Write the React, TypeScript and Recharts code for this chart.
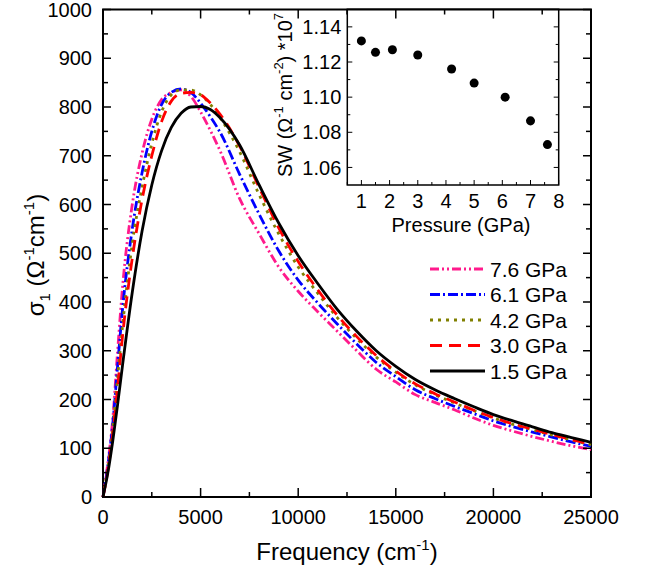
import React from "react";
import { LineChart, Line, XAxis, YAxis, ReferenceArea, Legend, ScatterChart, Scatter, ZAxis } from "recharts";

// frequency grid (cm^-1)
const freq = [0, 250, 500, 750, 1000, 1500, 2000, 2500, 3000, 3500, 4000, 4500, 5000, 5500, 6000, 7000, 8000, 9000, 10000, 11000, 12000, 13000, 14000, 15000, 16000, 17000, 18000, 19000, 20000, 21000, 22000, 23000, 24000, 25000];

// sigma_1 values
const gpa76 = [0, 70, 160, 300, 430, 600, 705, 775, 815, 830, 835, 822, 790, 752, 710, 612, 540, 472, 422, 380, 340, 300, 262, 236, 210, 194, 179, 162, 147, 135, 124, 114, 105, 97];
const gpa61 = [0, 65, 150, 270, 385, 550, 665, 750, 805, 830, 837, 830, 808, 780, 748, 662, 580, 505, 445, 398, 355, 314, 276, 247, 220, 202, 186, 171, 156, 144, 133, 123, 113, 104];
const gpa42 = [0, 60, 140, 245, 350, 520, 635, 725, 790, 825, 835, 835, 825, 805, 778, 708, 620, 540, 472, 418, 368, 325, 287, 256, 230, 210, 193, 177, 162, 149, 138, 127, 117, 107];
const gpa30 = [0, 55, 130, 225, 330, 490, 610, 700, 770, 812, 828, 830, 825, 808, 785, 720, 635, 552, 483, 425, 373, 329, 290, 258, 232, 212, 195, 178, 163, 150, 139, 128, 118, 108];
const gpa15 = [0, 50, 115, 190, 270, 420, 545, 640, 710, 758, 787, 800, 801, 795, 778, 722, 640, 562, 495, 438, 385, 340, 300, 268, 241, 220, 202, 185, 169, 156, 144, 132, 122, 112];

// inset: spectral weight vs pressure
const pressure = [1, 1.5, 2.1, 3, 4.2, 5, 6.1, 7, 7.6];
const sw = [1.132, 1.1255, 1.127, 1.124, 1.116, 1.108, 1.1, 1.0865, 1.073];

const xTicks = [0, 2500, 5000, 7500, 10000, 12500, 15000, 17500, 20000, 22500, 25000];
const yTicks = [0, 50, 100, 150, 200, 250, 300, 350, 400, 450, 500, 550, 600, 650, 700, 750, 800, 850, 900, 950, 1000];
const insetXTicks = [0.5, 1, 1.5, 2, 2.5, 3, 3.5, 4, 4.5, 5, 5.5, 6, 6.5, 7, 7.5, 8];
const insetYTicks = [1.06, 1.07, 1.08, 1.09, 1.1, 1.11, 1.12, 1.13, 1.14];

const rows = freq.map((f, i) => ({
  f,
  p76: gpa76[i],
  p61: gpa61[i],
  p42: gpa42[i],
  p30: gpa30[i],
  p15: gpa15[i],
}));

const insetRows = pressure.map((p, i) => ({ p, sw: sw[i] }));

const series = [
  { key: "p76", name: "7.6 GPa", color: "#ff1a8c", dash: "9 3 2 3 2 3" },
  { key: "p61", name: "6.1 GPa", color: "#0000ff", dash: "10 3 2 3" },
  { key: "p42", name: "4.2 GPa", color: "#808000", dash: "3 5" },
  { key: "p30", name: "3.0 GPa", color: "#ff0000", dash: "12 7" },
  { key: "p15", name: "1.5 GPa", color: "#000000", dash: undefined },
];

const FONT = "'Liberation Sans', Arial, Helvetica, sans-serif";
const PLOT_W = 488;
const PLOT_H = 487.5;
const IN_W = 211.4;
const LW = 2.8;

function MainYTick(props: any) {
  const { x, y, payload } = props;
  const ax = x + 11;
  const major = payload.value % 100 === 0;
  const len = major ? 8 : 5;
  return (
    <g>
      <line x1={ax} x2={ax + len} y1={y} y2={y} stroke="#000" strokeWidth={1.5} />
      <line x1={ax + PLOT_W - len} x2={ax + PLOT_W} y1={y} y2={y} stroke="#000" strokeWidth={1.5} />
      {major && (
        <text x={x} y={y} dy="0.36em" textAnchor="end" fontSize={20} fontFamily={FONT} fill="#000">
          {payload.value}
        </text>
      )}
    </g>
  );
}

function MainXTick(props: any) {
  const { x, y, payload } = props;
  const ay = y - 13;
  const major = payload.value % 5000 === 0;
  const len = major ? 9 : 5;
  return (
    <g>
      <line x1={x} x2={x} y1={ay} y2={ay - len} stroke="#000" strokeWidth={1.5} />
      <line x1={x} x2={x} y1={ay - PLOT_H} y2={ay - PLOT_H + len} stroke="#000" strokeWidth={1.5} />
      {major && (
        <text x={x} y={y} dy="0.72em" textAnchor="middle" fontSize={20} fontFamily={FONT} fill="#000">
          {payload.value}
        </text>
      )}
    </g>
  );
}

function InsetYTick(props: any) {
  const { x, y, payload } = props;
  const ax = x + 6;
  const major = Math.round(payload.value * 100) % 2 === 0;
  const len = major ? 5 : 3;
  return (
    <g>
      <line x1={ax} x2={ax + len} y1={y} y2={y} stroke="#000" strokeWidth={1} />
      <line x1={ax + IN_W - len} x2={ax + IN_W} y1={y} y2={y} stroke="#000" strokeWidth={1} />
      {major && (
        <text x={x} y={y} dy="0.36em" textAnchor="end" fontSize={20} fontFamily={FONT} fill="#000">
          {payload.value.toFixed(2)}
        </text>
      )}
    </g>
  );
}

function InsetXTick(props: any) {
  const { x, y, payload } = props;
  const ay = y - 9;
  const major = Number.isInteger(payload.value);
  const len = major ? 5 : 3;
  return (
    <g>
      <line x1={x} x2={x} y1={ay} y2={ay - len} stroke="#000" strokeWidth={1} />
      {major && (
        <text x={x} y={y} dy="0.72em" textAnchor="middle" fontSize={20} fontFamily={FONT} fill="#000">
          {payload.value}
        </text>
      )}
    </g>
  );
}

const renderLegend = () => (
  <svg width={160} height={130}>
    {series.map((s, i) => (
      <g key={s.key}>
        <line x1={0} x2={55} y1={12 + i * 25.5} y2={12 + i * 25.5} stroke={s.color} strokeWidth={LW} strokeDasharray={s.dash} />
        <text x={60} y={12 + i * 25.5} dy="0.36em" fontSize={21} fontFamily={FONT} fill="#000">
          {s.name}
        </text>
      </g>
    ))}
  </svg>
);

export default function App() {
  return (
    <div style={{ position: "absolute", left: 0, top: 0, width: 648, height: 574, background: "#fff", fontFamily: FONT }}>
      <LineChart width={648} height={574} data={rows} margin={{ top: 9.5, right: 57, bottom: 47, left: 43 }}>
        <XAxis
          dataKey="f"
          type="number"
          domain={[0, 25000]}
          ticks={xTicks}
          interval={0}
          height={30}
          tickSize={0}
          tickMargin={13}
          axisLine={false}
          tickLine={false}
          tick={<MainXTick />}
        />
        <YAxis
          type="number"
          domain={[0, 1000]}
          ticks={yTicks}
          interval={0}
          width={60}
          tickSize={0}
          tickMargin={11}
          axisLine={false}
          tickLine={false}
          tick={<MainYTick />}
        />
        <ReferenceArea x1={0} x2={25000} y1={0} y2={1000} fill="none" stroke="#000" strokeWidth={2} ifOverflow="visible" />
        {series.map((s) => (
          <Line
            key={s.key}
            dataKey={s.key}
            name={s.name}
            type="monotone"
            stroke={s.color}
            strokeWidth={LW}
            strokeDasharray={s.dash}
            dot={false}
            activeDot={false}
            isAnimationActive={false}
          />
        ))}
        <Legend
          layout="horizontal"
          verticalAlign="middle"
          content={renderLegend}
          wrapperStyle={{ position: "absolute", left: 430, top: 257, width: 160, height: 130 }}
        />
      </LineChart>

      <div style={{ position: "absolute", left: 280, top: 0 }}>
        <ScatterChart width={290} height={250} margin={{ top: 9.3, right: 11.3, bottom: 35, left: 17.3 }}>
          <XAxis
            dataKey="p"
            type="number"
            domain={[0.5, 8]}
            ticks={insetXTicks}
            interval={0}
            height={30}
            tickSize={0}
            tickMargin={9}
            axisLine={false}
            tickLine={false}
            tick={<InsetXTick />}
          />
          <YAxis
            dataKey="sw"
            type="number"
            domain={[1.05, 1.15]}
            ticks={insetYTicks}
            interval={0}
            width={50}
            tickSize={0}
            tickMargin={6}
            axisLine={false}
            tickLine={false}
            tick={<InsetYTick />}
          />
          <ZAxis range={[75, 75]} />
          <ReferenceArea x1={0.5} x2={8} y1={1.05} y2={1.15} fill="none" stroke="#000" strokeWidth={1.5} ifOverflow="visible" />
          <Scatter data={insetRows} fill="#000" isAnimationActive={false} />
        </ScatterChart>
      </div>

      <svg width={648} height={574} style={{ position: "absolute", left: 0, top: 0, pointerEvents: "none" }}>
        <text x={347} y={560} textAnchor="middle" fontSize={24} fontFamily={FONT} fill="#000">
          Frequency (cm<tspan dy={-10} fontSize={15}>-1</tspan><tspan dy={10}>)</tspan>
        </text>
        <text x={0} y={0} transform="translate(44,255) rotate(-90)" textAnchor="middle" fontSize={24} fontFamily={FONT} fill="#000">
          σ<tspan dy={6} fontSize={15}>1</tspan>
          <tspan dy={-6}> (Ω</tspan>
          <tspan dy={-10} fontSize={15}>-1</tspan>
          <tspan dy={10}>cm</tspan>
          <tspan dy={-10} fontSize={15}>-1</tspan>
          <tspan dy={10}>)</tspan>
        </text>
        <text x={461} y={232} textAnchor="middle" fontSize={20} fontFamily={FONT} fill="#000">
          Pressure (GPa)
        </text>
        <text x={0} y={0} transform="translate(292,95) rotate(-90)" textAnchor="middle" fontSize={20} fontFamily={FONT} fill="#000">
          SW (Ω<tspan dy={-9} fontSize={13}>-1</tspan>
          <tspan dy={9}> cm</tspan>
          <tspan dy={-9} fontSize={13}>-2</tspan>
          <tspan dy={9}>) *10</tspan>
          <tspan dy={-9} fontSize={13}>7</tspan>
        </text>
      </svg>
    </div>
  );
}
